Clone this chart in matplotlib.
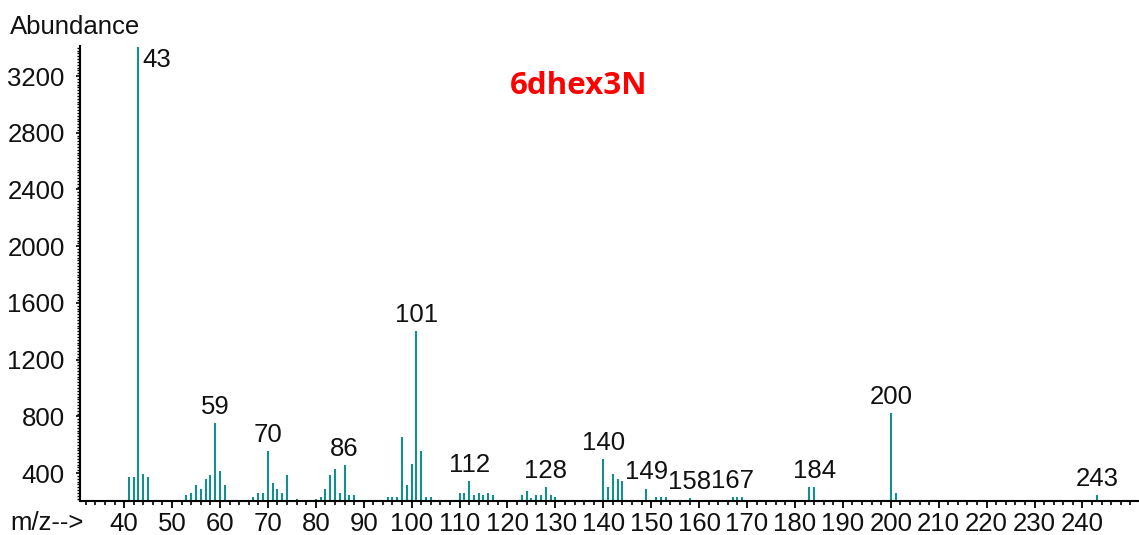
import matplotlib
matplotlib.use("Agg")
import matplotlib.pyplot as plt
from matplotlib.ticker import MultipleLocator

# m/z values and abundances
mz = [41, 42, 43, 44, 45,
      53, 54, 55, 56, 57, 58, 59, 60, 61,
      67, 68, 69, 70, 71, 72, 73, 74, 76,
      80, 81, 82, 83, 84, 85, 86, 87, 88,
      95, 96, 97, 98, 99, 100, 101, 102, 103, 104,
      110, 111, 112, 113, 114, 115, 116, 117,
      123, 124, 125, 126, 127, 128, 129, 130,
      140, 141, 142, 143, 144,
      149, 151, 152, 153, 158, 167, 168, 169,
      183, 184, 200, 201, 243]
abundance = [372, 372, 3405, 391, 372,
             245, 257, 316, 285, 356, 386, 750, 416, 316,
             228, 257, 257, 555, 327, 287, 257, 386, 217,
             217, 233, 287, 386, 428, 257, 456, 245, 245,
             233, 233, 233, 655, 316, 461, 1401, 555, 233, 233,
             257, 257, 346, 245, 261, 245, 261, 245,
             245, 273, 222, 245, 245, 299, 245, 228,
             498, 304, 391, 360, 344,
             290, 233, 233, 233, 222, 233, 233, 233,
             304, 304, 824, 259, 245]

labels = [43, 59, 70, 86, 101, 112, 128, 140, 149, 158, 167, 184, 200, 243]

xticks = list(range(40, 250, 10))
yticks = list(range(400, 3600, 400))

title = "6dhex3N"
ylabel = "Abundance"
xlabel = "m/z-->"

W, H = 1139, 535
fig = plt.figure(figsize=(W / 100, H / 100), dpi=100)
plt.rcParams['font.family'] = ['Liberation Sans', 'DejaVu Sans']

left, right, top, bottom = 80, 1139, 46, 501
ax = fig.add_axes([left / W, (H - bottom) / H, (right - left) / W, (bottom - top) / H])

color = '#138f8f'
ax.vlines(mz, 0, abundance, color=color, linewidth=1.5)

ax.set_xlim(30.8, 251.8)
ax.set_ylim(203, 3412)

for s in ['top', 'right']:
    ax.spines[s].set_visible(False)
ax.spines['left'].set_linewidth(1.5)
ax.spines['bottom'].set_linewidth(1.5)

fs = 18.5
tc = '#111111'
ax.set_xticks(xticks)
ax.set_xticklabels([str(t) for t in xticks])
ax.xaxis.set_minor_locator(MultipleLocator(2))
ax.set_yticks(yticks)
ax.set_yticklabels([str(t) for t in yticks])
ax.yaxis.set_minor_locator(MultipleLocator(20))

ax.tick_params(axis='x', which='major', direction='out', length=5, width=1.3, labelsize=fs, pad=3, labelcolor=tc)
ax.tick_params(axis='x', which='minor', direction='out', length=3, width=1.2)
ax.tick_params(axis='y', which='major', direction='out', length=3, width=1.2, labelsize=fs, pad=8, labelcolor=tc)
ax.tick_params(axis='y', which='minor', direction='out', length=2, width=1.0)

for m in labels:
    a = abundance[mz.index(m)]
    if m == 43:
        ax.annotate(str(m), xy=(m, a), xytext=(3, -1), textcoords='offset points',
                    ha='left', va='top', fontsize=fs, color=tc)
    else:
        ax.annotate(str(m), xy=(m, a), xytext=(0, 3), textcoords='offset points',
                    ha='center', va='bottom', fontsize=fs, color=tc)

fig.text(10 / W, 1 - 27 / H, ylabel, ha='left', va='center', fontsize=fs, color=tc)
fig.text(10 / W, 1 - 523 / H, xlabel, ha='left', va='center', fontsize=fs, color=tc)
fig.text(579 / W, 1 - 86 / H, title, ha='center', va='center', fontsize=22.5,
         fontweight='bold', color='#ff0000', family=['Open Sans', 'DejaVu Sans'])

fig.savefig('out.png', dpi=100)
